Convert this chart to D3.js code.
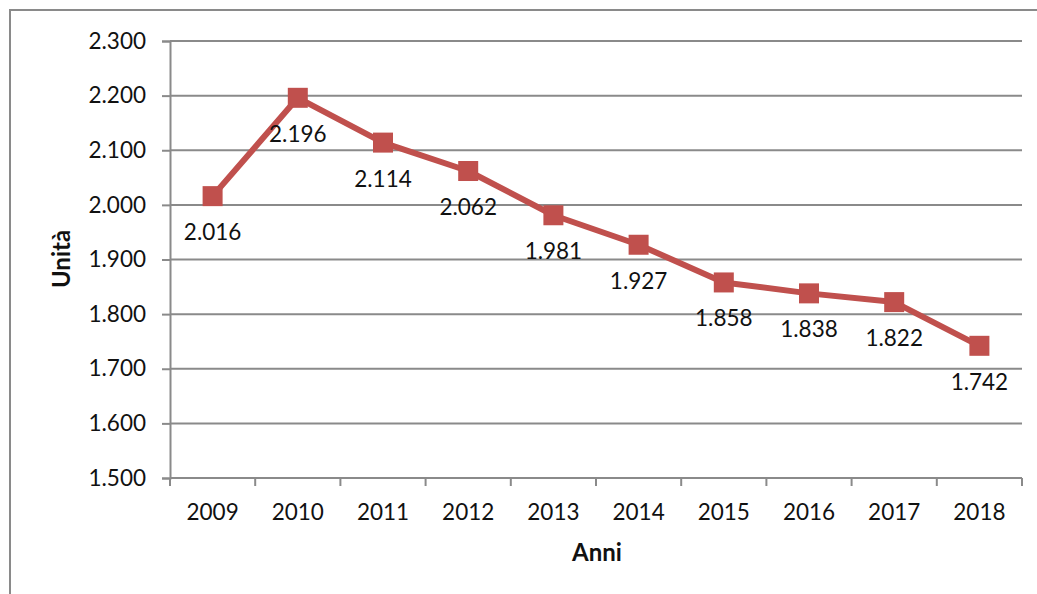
<!DOCTYPE html>
<html>
<head>
<meta charset="utf-8">
<script src="https://cdn.jsdelivr.net/npm/d3@7"></script>
<style>
  html, body { margin: 0; padding: 0; background: #fff; }
  svg { display: block; }
  text { font-family: Lato, "Open Sans", sans-serif; fill: #111; }
</style>
</head>
<body>
<svg id="chart" width="1037" height="594"></svg>
<script>
// Unità per anno
const years = ["2009", "2010", "2011", "2012", "2013", "2014", "2015", "2016", "2017", "2018"];
const units = [2016, 2196, 2114, 2062, 1981, 1927, 1858, 1838, 1822, 1742];
const yTicks = [1500, 1600, 1700, 1800, 1900, 2000, 2100, 2200, 2300];

const svg = d3.select("#chart");
const W = 1037, H = 594;
const m = { left: 170, right: 1022, top: 41, bottom: 478 };
const gray = "#8a8a8a";
const red = "#c0504d";
const fs = 22.5;

// Italian number format: dot as thousands separator
const itFmt = d3.formatLocale({ decimal: ",", thousands: ".", grouping: [3], currency: ["€", ""] }).format(",.0f");

// outer chart frame (continues past the right and bottom edges)
svg.append("rect")
  .attr("x", 10).attr("y", 10)
  .attr("width", W + 20).attr("height", H + 20)
  .attr("fill", "none").attr("stroke", gray).attr("stroke-width", 2);

const x = d3.scaleBand().domain(years).range([m.left, m.right]);
const y = d3.scaleLinear().domain([1500, 2300]).range([m.bottom, m.top]);

// horizontal gridlines
svg.append("g").selectAll("line").data(yTicks.slice(1)).join("line")
  .attr("x1", m.left).attr("x2", m.right)
  .attr("y1", d => y(d)).attr("y2", d => y(d))
  .attr("stroke", gray).attr("stroke-width", 2);

// y axis
const yAxis = svg.append("g")
  .attr("transform", `translate(${m.left},0)`)
  .call(d3.axisLeft(y).tickValues(yTicks).tickFormat(itFmt).tickSize(8).tickPadding(16));
yAxis.select(".domain").attr("stroke", gray).attr("stroke-width", 2);
yAxis.selectAll(".tick line").attr("stroke", gray).attr("stroke-width", 2);
yAxis.selectAll(".tick text").attr("font-size", fs).attr("font-family", "Lato, sans-serif").attr("fill", "#111");

// x axis: ticks on category boundaries
const xAxisG = svg.append("g").attr("transform", `translate(0,${m.bottom})`);
xAxisG.append("line")
  .attr("x1", m.left).attr("x2", m.right)
  .attr("stroke", gray).attr("stroke-width", 2);
const bounds = years.map(d => x(d)).concat([x(years[years.length - 1]) + x.bandwidth()]);
xAxisG.selectAll("line.tk").data(bounds).join("line")
  .attr("class", "tk")
  .attr("x1", d => d).attr("x2", d => d)
  .attr("y1", 0).attr("y2", 8)
  .attr("stroke", gray).attr("stroke-width", 2);
xAxisG.selectAll("text").data(years).join("text")
  .attr("x", d => x(d) + x.bandwidth() / 2)
  .attr("y", 42)
  .attr("text-anchor", "middle")
  .attr("font-size", fs)
  .text(d => d);

// axis titles
svg.append("text")
  .attr("transform", `translate(70,259) rotate(-90)`)
  .attr("text-anchor", "middle")
  .attr("font-size", 24).attr("font-weight", "bold")
  .text("Unità");
svg.append("text")
  .attr("x", 597).attr("y", 561)
  .attr("text-anchor", "middle")
  .attr("font-size", 24).attr("font-weight", "bold")
  .text("Anni");

const cx = (d, i) => x(years[i]) + x.bandwidth() / 2;

// series line
svg.append("path")
  .datum(units)
  .attr("fill", "none")
  .attr("stroke", red)
  .attr("stroke-width", 6)
  .attr("stroke-linejoin", "round")
  .attr("d", d3.line().x(cx).y(d => y(d)));

// square markers
const s = 20;
svg.append("g").selectAll("rect").data(units).join("rect")
  .attr("x", (d, i) => cx(d, i) - s / 2)
  .attr("y", d => y(d) - s / 2)
  .attr("width", s).attr("height", s)
  .attr("fill", red);

// data labels below each point
svg.append("g").selectAll("text").data(units).join("text")
  .attr("x", cx)
  .attr("y", d => y(d) + 44)
  .attr("text-anchor", "middle")
  .attr("font-size", fs)
  .text(d => itFmt(d));
</script>
</body>
</html>
